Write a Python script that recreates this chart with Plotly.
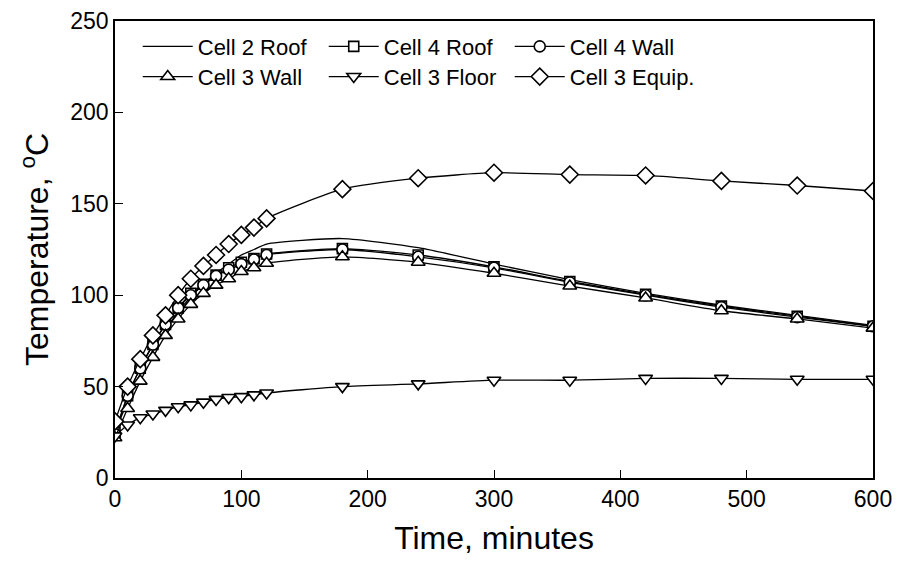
import plotly.graph_objects as go

# Sampling times (minutes)
time_min = [0, 10, 20, 30, 40, 50, 60, 70, 80, 90, 100, 110, 120,
            180, 240, 300, 360, 420, 480, 540, 600]

# Temperatures (deg C)
cell2_roof = [25, 42, 57, 70, 81, 91, 99, 106, 112, 117, 122, 125, 128,
              131, 126, 117, 108.5, 101, 94.5, 89, 83.5]
cell4_roof = [25, 45, 60, 73, 84, 93, 101, 106, 111, 115, 118, 120, 122.5,
              125.5, 122, 115.5, 107.5, 100.5, 94, 88.5, 83]
cell4_wall = [24, 45, 60, 73, 84, 93, 100, 105.5, 110.5, 114, 117, 119.5, 122,
              125, 121, 115, 107, 100, 93.5, 88, 83]
cell3_wall = [22, 38, 53, 66, 78, 87, 95, 101, 105.5, 109, 113, 115, 117.5,
              121, 118, 112, 105, 98.5, 91.5, 87, 82]
cell3_floor = [23, 29, 33, 35, 37, 39, 40, 41.5, 43, 44, 44.5, 45.5, 46.5,
               50, 51.5, 53.5, 53.5, 54.5, 54.5, 54, 54]
cell3_equip = [31, 50, 65, 78, 89, 100, 109, 116, 122, 128, 133, 137, 142,
               158, 164, 167, 166, 165.5, 162.5, 160, 157]

series = [
    ("Cell 2 Roof", cell2_roof, None, 0, "legend"),
    ("Cell 4 Roof", cell4_roof, "square", 10, "legend"),
    ("Cell 4 Wall", cell4_wall, "circle", 11, "legend"),
    ("Cell 3 Wall", cell3_wall, "triangle-up", 12, "legend2"),
    ("Cell 3 Floor", cell3_floor, "triangle-down", 12, "legend2"),
    ("Cell 3 Equip.", cell3_equip, "diamond", 13, "legend2"),
]

fig = go.Figure()
for name, vals, symbol, size, leg in series:
    kw = dict(
        x=time_min, y=vals, name=name, legend=leg,
        line=dict(color="black", width=1.3, shape="spline", smoothing=0.6),
    )
    if symbol is None:
        kw["mode"] = "lines"
    else:
        kw["mode"] = "lines+markers"
        kw["marker"] = dict(symbol=symbol, size=size, color="white",
                            line=dict(color="black", width=1.6))
    fig.add_trace(go.Scatter(**kw))

font_family = "Liberation Sans, Arial, sans-serif"
legend_common = dict(
    orientation="h", xanchor="left", yanchor="middle",
    bgcolor="rgba(0,0,0,0)", font=dict(family=font_family, size=22, color="black"),
    itemwidth=50, entrywidth=121, entrywidthmode="pixels", itemsizing="trace",
    tracegroupgap=0,
)

fig.update_layout(
    width=898, height=568,
    margin=dict(l=115, r=25, t=21, b=90, autoexpand=False),
    paper_bgcolor="white", plot_bgcolor="white",
    font=dict(family=font_family, color="black"),
    showlegend=True,
    legend=dict(x=0.03, y=0.944, **legend_common),
    legend2=dict(x=0.03, y=0.878, **legend_common),
    xaxis=dict(
        range=[0, 600], tickvals=[0, 100, 200, 300, 400, 500, 600],
        showline=True, linecolor="black", linewidth=1.5, mirror=True,
        ticks="inside", ticklen=8, tickwidth=1.2, tickcolor="black",
        showgrid=False, zeroline=False, automargin=False,
        tickfont=dict(size=23, family=font_family),
        title=dict(text="Time, minutes", font=dict(size=32, family=font_family), standoff=15),
    ),
    yaxis=dict(
        range=[0, 250], tickvals=[0, 50, 100, 150, 200, 250],
        showline=True, linecolor="black", linewidth=1.5, mirror=True,
        ticks="inside", ticklen=8, tickwidth=1.2, tickcolor="black",
        showgrid=False, zeroline=False, automargin=False,
        tickfont=dict(size=23, family=font_family),
        title=dict(text="Temperature, <sup>o</sup>C", font=dict(size=32, family=font_family), standoff=12),
    ),
)

fig.write_html("out.html")
